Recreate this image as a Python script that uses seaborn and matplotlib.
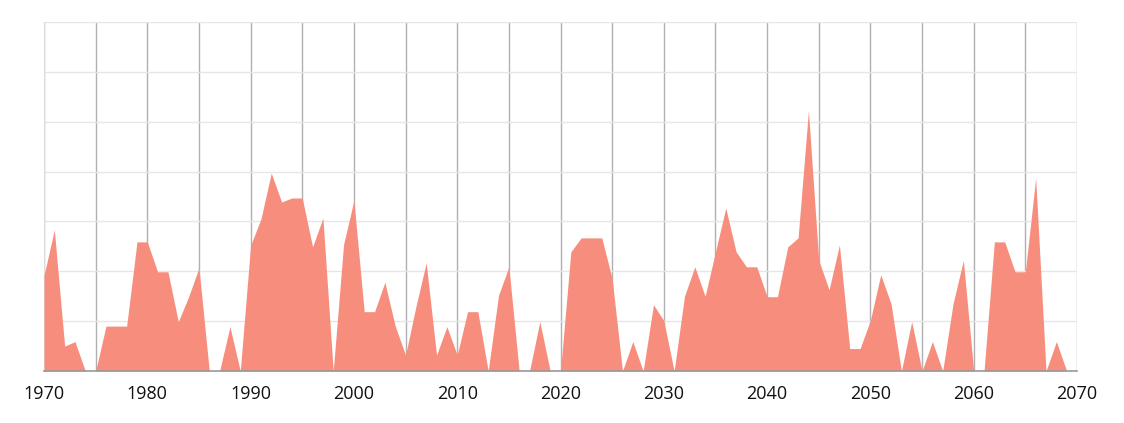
import numpy as np
import pandas as pd
import seaborn as sns
import matplotlib.pyplot as plt

# yearly values (one gridline step = 10)
years = list(range(1970, 2070))
values = [
    19.2, 28.3, 5.0, 5.9, 0, 0, 9.0, 9.0, 9.0, 25.9,
    25.9, 19.9, 19.9, 9.9, 14.9, 20.7, 0, 0, 8.9, 0,
    25.2, 30.5, 39.7, 33.9, 34.7, 34.7, 24.9, 30.7, 0, 25.4,
    34.2, 11.9, 11.9, 17.8, 9.0, 3.2, 12.9, 21.7, 3.2, 8.9,
    3.2, 11.9, 11.9, 0, 15.2, 20.9, 0, 0, 9.9, 0,
    0, 23.9, 26.7, 26.7, 26.7, 18.5, 0, 5.9, 0, 13.3,
    10.1, 0, 15.0, 20.9, 15.0, 23.9, 32.7, 23.9, 20.9, 20.9,
    14.9, 14.9, 24.9, 26.7, 52.2, 22.2, 16.3, 25.3, 4.5, 4.5,
    10.2, 19.3, 13.5, 0, 9.9, 0, 5.9, 0, 13.5, 22.2,
    0, 0, 25.9, 25.9, 19.9, 19.9, 38.7, 0, 5.9, 0,
]
tick_years = list(range(1970, 2071, 5))
tick_labels = [str(y) if y % 10 == 0 else "" for y in tick_years]

df = pd.DataFrame({"year": years, "value": values})

fill_color = "#F78E7D"

sns.set_style("white")
plt.rcParams["font.family"] = ["Open Sans", "DejaVu Sans"]

fig = plt.figure(figsize=(11.24, 4.23), dpi=100)
ax = fig.add_axes([44 / 1124, 52 / 423, 1033 / 1124, 349 / 423])

ax.fill_between(df["year"], 0, df["value"], color=fill_color, linewidth=0, zorder=3)

ax.set_xlim(1970, 2070)
ax.set_ylim(0, 70)
ax.set_xticks(tick_years)
ax.set_xticklabels(tick_labels, fontsize=13, color="#111111")
ax.set_yticks(np.arange(0, 71, 10))
ax.set_yticklabels([])
ax.tick_params(axis="x", direction="out", length=6, width=1, color="#999999", pad=4)
ax.tick_params(axis="y", length=0)

# grid: darker vertical lines, light horizontal lines
ax.grid(axis="x", color="#b0b0b0", linewidth=1, zorder=1)
ax.grid(axis="y", color="#e6e6e6", linewidth=1, zorder=1)
ax.set_axisbelow(True)

ax.set_xlabel("")
ax.set_ylabel("")
for side in ["top", "right"]:
    ax.spines[side].set_visible(False)
ax.spines["left"].set_color("#dddddd")
ax.spines["bottom"].set_color("#999999")
ax.spines["bottom"].set_linewidth(1.2)
ax.spines["bottom"].set_zorder(4)

plt.savefig("out.png", dpi=100)
